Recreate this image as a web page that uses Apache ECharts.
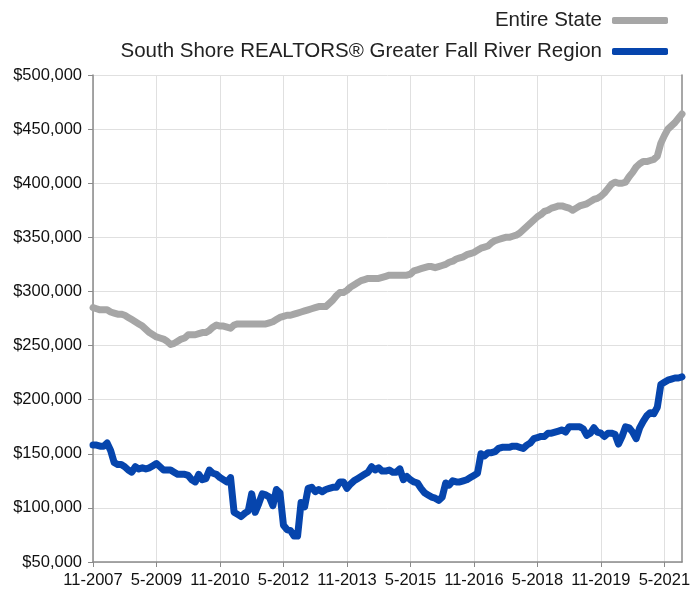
<!DOCTYPE html>
<html>
<head>
<meta charset="utf-8">
<script src="https://cdn.jsdelivr.net/npm/echarts@6/dist/echarts.min.js"></script>
<style>
  html, body { margin: 0; padding: 0; background: #fff; }
  #chart { width: 700px; height: 590px; }
</style>
</head>
<body>
<div id="chart"></div>
<script>
// monthly, 11-2007 .. 10-2021
const startMonth = 11;
const startYear = 2007;
const monthCount = 168;

const tickLabels = ["11-2007", "5-2009", "11-2010", "5-2012", "11-2013", "5-2015", "11-2016", "5-2018", "11-2019", "5-2021"];

// median price, thousands of dollars
const entireState = [
  285, 284, 283, 283, 283, 281, 280, 279, 279, 278, 276, 274, 272, 270, 268, 265, 262, 260, 258, 257,
  256, 254, 251, 252, 254, 256, 257, 260, 260, 260, 261, 262, 262, 264, 267, 269, 268, 268, 267, 266,
  269, 270, 270, 270, 270, 270, 270, 270, 270, 270, 271, 272, 274, 276, 277, 278, 278, 279, 280, 281,
  282, 283, 284, 285, 286, 286, 286, 289, 292, 296, 299, 299, 301, 304, 306, 308, 310, 311, 312, 312,
  312, 312, 313, 314, 315, 315, 315, 315, 315, 315, 316, 319, 320, 321, 322, 323, 323, 322, 323, 324,
  325, 327, 328, 330, 331, 332, 334, 335, 336, 338, 340, 341, 342, 345, 347, 348, 349, 350, 350, 351,
  352, 354, 357, 360, 363, 366, 369, 371, 374, 375, 377, 378, 379, 379, 378, 377, 375, 377, 379, 380,
  381, 383, 385, 386, 388, 391, 395, 399, 401, 400, 400, 401, 406, 410, 415, 418, 420, 420, 421, 422,
  425, 437, 444, 450, 453, 456, 460, 464
];

const fallRiver = [
  158, 158, 157, 157, 160, 153, 142, 140, 140, 138, 135, 133, 138, 136, 137, 136, 137, 139, 141, 138,
  135, 135, 135, 133, 131, 131, 131, 130, 126, 124, 131, 126, 127, 135, 132, 131, 128, 126, 124, 128,
  96, 94, 92, 95, 97, 113, 96, 104, 113, 112, 110, 102, 117, 114, 84, 80, 79, 74, 74, 105,
  101, 118, 119, 115, 117, 115, 117, 118, 119, 119, 124, 124, 118, 122, 125, 127, 129, 131, 133, 138,
  135, 137, 134, 134, 135, 133, 133, 136, 126, 129, 126, 124, 123, 118, 114, 112, 110, 109, 107, 110,
  123, 121, 125, 124, 124, 125, 126, 128, 130, 132, 150, 148, 151, 151, 152, 155, 156, 156, 156, 157,
  157, 156, 155, 158, 160, 164, 165, 166, 166, 169, 169, 170, 171, 172, 170, 175, 175, 175, 175, 173,
  167, 169, 174, 170, 169, 166, 169, 169, 168, 159, 166, 175, 174, 170, 164, 174, 180, 185, 188, 187,
  193, 214, 216, 218, 219, 220, 220, 221
];

const months = [];
for (let i = 0; i < monthCount; i++) {
  const m = (startMonth - 1 + i) % 12 + 1;
  const y = startYear + Math.floor((startMonth - 1 + i) / 12);
  months.push(m + "-" + y);
}

const chart = echarts.init(document.getElementById("chart"));
const font = "'Liberation Sans', Arial, sans-serif";

chart.setOption({
  animation: false,
  textStyle: { fontFamily: font },
  legend: {
    orient: "vertical",
    right: 27,
    top: 5,
    align: "right",
    itemWidth: 56,
    itemHeight: 7,
    itemGap: 10,
    icon: "roundRect",
    textStyle: { fontSize: 20.5, color: "#222", fontFamily: font, padding: [0, 5, 0, 0] },
    data: ["Entire State", "South Shore REALTORS® Greater Fall River Region"]
  },
  grid: {
    left: 93,
    right: 18,
    top: 75,
    bottom: 28
  },
  xAxis: {
    type: "category",
    boundaryGap: false,
    data: months,
    axisLine: { lineStyle: { color: "#8a8a8a", width: 1.5 } },
    axisTick: { interval: 17, length: 5, lineStyle: { color: "#8a8a8a" } },
    axisLabel: {
      interval: 17,
      color: "#111",
      fontSize: 16.5,
      margin: 10,
      fontFamily: font,
      formatter: (v) => (tickLabels.indexOf(v) >= 0 ? v : "")
    },
    splitLine: { show: true, interval: 17, lineStyle: { color: "#e0e0e0" } }
  },
  yAxis: [
    {
      type: "value",
      min: 50,
      max: 500,
      interval: 50,
      axisLine: { show: true, lineStyle: { color: "#8a8a8a", width: 1.5 } },
      axisTick: { show: true, length: 5, lineStyle: { color: "#8a8a8a" } },
      axisLabel: {
        color: "#111",
        fontSize: 16.5,
        margin: 11,
        fontFamily: font,
        formatter: (v) => "$" + (v * 1000).toLocaleString("en-US")
      },
      splitLine: { lineStyle: { color: "#e0e0e0" } }
    },
    {
      type: "value",
      min: 50,
      max: 500,
      interval: 50,
      position: "right",
      axisLine: { show: true, lineStyle: { color: "#8a8a8a", width: 1.5 } },
      axisTick: { show: false },
      axisLabel: { show: false },
      splitLine: { show: false }
    }
  ],
  series: [
    {
      name: "Entire State",
      type: "line",
      data: entireState,
      showSymbol: false,
      color: "#a6a6a6",
      lineStyle: { width: 7, color: "#a6a6a6", cap: "round", join: "round" }
    },
    {
      name: "South Shore REALTORS® Greater Fall River Region",
      type: "line",
      data: fallRiver,
      showSymbol: false,
      color: "#0645ad",
      lineStyle: { width: 7, color: "#0645ad", cap: "round", join: "round" }
    }
  ]
});
</script>
</body>
</html>
